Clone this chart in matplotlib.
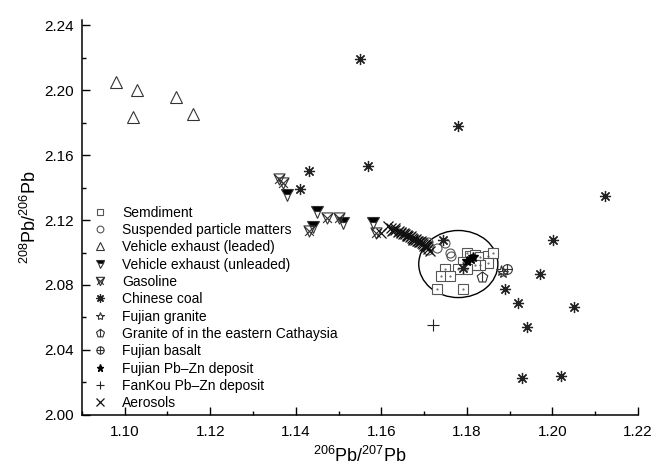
import numpy as np
import matplotlib
matplotlib.use("Agg")
from matplotlib import pyplot as plt
from matplotlib.path import Path
from matplotlib.patches import Ellipse

plt.rcParams['font.family'] = ['Liberation Sans', 'DejaVu Sans']
plt.rcParams['mathtext.fontset'] = 'custom'
plt.rcParams['mathtext.rm'] = 'Liberation Sans'

# ---- data ----
sed_x = [1.1800, 1.1807, 1.1820, 1.1830, 1.1850, 1.1860, 1.1850, 1.1830, 1.1818,
         1.1790, 1.1800, 1.1780, 1.1750, 1.1740, 1.1760, 1.1730, 1.1790]
sed_y = [2.1000, 2.0980, 2.0985, 2.0970, 2.0980, 2.1000, 2.0935, 2.0920, 2.0925,
         2.0940, 2.0900, 2.0900, 2.0900, 2.0856, 2.0856, 2.0775, 2.0775]

spm_x = [1.1710, 1.1730, 1.1750, 1.1760, 1.1762, 1.1709]
spm_y = [2.1066, 2.1030, 2.1060, 2.1000, 2.0980, 2.1015]

leaded_x = [1.0979, 1.1028, 1.1019, 1.1119, 1.1159]
leaded_y = [2.2050, 2.2000, 2.1834, 2.1960, 2.1850]

unleaded_x = [1.1379, 1.1450, 1.1440, 1.1510, 1.1580]
unleaded_y = [2.1354, 2.1250, 2.1160, 2.1180, 2.1180]

gas_x = [1.1360, 1.1370, 1.1430, 1.1472, 1.1500, 1.1587]
gas_y = [2.1450, 2.1430, 2.1130, 2.1210, 2.1210, 2.1120]

coal_x = [1.1550, 1.1570, 1.1430, 1.1410, 1.1780, 1.2123, 1.2001, 1.1970, 1.2050,
          1.1890, 1.1920, 1.1940, 1.1930, 1.2020, 1.1744, 1.1790]
coal_y = [2.2190, 2.1530, 2.1500, 2.1390, 2.1780, 2.1350, 2.1080, 2.0870, 2.0665,
          2.0775, 2.0690, 2.0540, 2.0230, 2.0240, 2.1080, 2.0905]

fgranite_x = [1.1885, 1.1880]
fgranite_y = [2.0875, 2.0885]

cathaysia_x = [1.1835]
cathaysia_y = [2.0850]

basalt_x = [1.1894]
basalt_y = [2.0900]

fjpbzn_x = [1.1810, 1.1800, 1.1815]
fjpbzn_y = [2.0960, 2.0950, 2.0970]

fankou_x = [1.1720]
fankou_y = [2.0554]

aero_x = [1.1599, 1.1615, 1.1622, 1.1628, 1.1633, 1.1638, 1.1642, 1.1647, 1.1651,
          1.1655, 1.1659, 1.1663, 1.1667, 1.1671, 1.1675, 1.1679, 1.1683, 1.1686,
          1.1690, 1.1694, 1.1697, 1.1701, 1.1704, 1.1707, 1.1710, 1.1713, 1.1632,
          1.1645, 1.1661, 1.1673, 1.1688, 1.1699, 1.1626, 1.1652, 1.1669, 1.1681,
          1.1692, 1.1706]
aero_y = [2.1120, 2.1163, 2.1148, 2.1140, 2.1136, 2.1125, 2.1130, 2.1118, 2.1112,
          2.1115, 2.1104, 2.1100, 2.1096, 2.1090, 2.1086, 2.1078, 2.1073, 2.1070,
          2.1062, 2.1058, 2.1050, 2.1046, 2.1038, 2.1032, 2.1020, 2.1010, 2.1148,
          2.1128, 2.1108, 2.1080, 2.1066, 2.1042, 2.1132, 2.1122, 2.1102, 2.1084,
          2.1070, 2.1040]


# ---- custom markers ----
def gasoline_marker():
    verts = [(-1, 1), (1, 1), (0, -1), (-1, 1),
             (-0.8, 0.8), (0.8, -0.8), (-0.8, -0.8), (0.8, 0.8)]
    codes = [Path.MOVETO, Path.LINETO, Path.LINETO, Path.CLOSEPOLY,
             Path.MOVETO, Path.LINETO, Path.MOVETO, Path.LINETO]
    return Path(verts, codes)


def pentagon_bar_marker():
    ang = np.deg2rad(90 + 72 * np.arange(5))
    pts = list(zip(np.cos(ang), np.sin(ang)))
    verts = pts + [pts[0], (0, 1), (0, -0.81)]
    codes = [Path.MOVETO] + [Path.LINETO] * 4 + [Path.CLOSEPOLY, Path.MOVETO, Path.LINETO]
    return Path(verts, codes)


def circle_plus_marker():
    circ = Path.unit_circle()
    cross = Path([(-1, 0), (1, 0), (0, -1), (0, 1)],
                 [Path.MOVETO, Path.LINETO, Path.MOVETO, Path.LINETO])
    return Path.make_compound_path(circ, cross)


fig = plt.figure(figsize=(6.55, 4.72), dpi=100)
ax = fig.add_axes([0.125, 0.121, 0.849, 0.836])

gray = '#555555'
lw = 0.8
ax.plot(sed_x, sed_y, 's', ms=6.5, mfc='white', mec=gray, mew=lw, label='Semdiment')
ax.plot(sed_x, sed_y, '.', ms=1, color=gray)
ax.plot(spm_x, spm_y, 'o', ms=6.5, mfc='none', mec=gray, mew=lw,
        label='Suspended particle matters')
ax.plot(leaded_x, leaded_y, '^', ms=8, mfc='none', mec='#333333', mew=lw,
        label='Vehicle exhaust (leaded)')
ax.plot(unleaded_x, unleaded_y, 'v', ms=8, fillstyle='top', mfc='black',
        mfcalt='white', mec='#333333', mew=lw, label='Vehicle exhaust (unleaded)')
ax.plot(gas_x, gas_y, marker=gasoline_marker(), ls='none', ms=8, mfc='none',
        mec='#333333', mew=lw, label='Gasoline')
ax.plot(coal_x, coal_y, marker=(8, 2, 0), ls='none', ms=8, color='#222222',
        mew=0.9, label='Chinese coal')
ax.plot(fgranite_x, fgranite_y, '*', ms=8, mfc='none', mec='#333333', mew=lw,
        label='Fujian granite')
ax.plot(cathaysia_x, cathaysia_y, marker=pentagon_bar_marker(), ls='none', ms=8,
        mfc='none', mec='#333333', mew=lw, label='Granite of in the eastern Cathaysia')
ax.plot(basalt_x, basalt_y, marker=circle_plus_marker(), ls='none', ms=7,
        mfc='none', mec='#333333', mew=lw, label='Fujian basalt')
ax.plot(fjpbzn_x, fjpbzn_y, '*', ms=7, color='black', label='Fujian Pb–Zn deposit')
ax.plot(fankou_x, fankou_y, '+', ms=8, color='#222222', mew=0.8,
        label='FanKou Pb–Zn deposit')
ax.plot(aero_x, aero_y, 'x', ms=7, color='#111111', mew=0.9, label='Aerosols')

ax.add_patch(Ellipse((1.1780, 2.0929), 0.0185, 0.0413, fill=False,
                     edgecolor='black', lw=1.0))

ax.set_xlim(1.09, 1.22)
ax.set_ylim(2.00, 2.243)
ax.set_xticks(np.arange(1.10, 1.2201, 0.02))
ax.set_xticks(np.arange(1.09, 1.2201, 0.01), minor=True)
ax.set_yticks(np.arange(2.00, 2.2401, 0.04))
ax.set_yticks(np.arange(2.02, 2.2401, 0.04), minor=True)
ax.xaxis.set_major_formatter(matplotlib.ticker.FormatStrFormatter('%.2f'))
ax.yaxis.set_major_formatter(matplotlib.ticker.FormatStrFormatter('%.2f'))
ax.tick_params(which='both', direction='in', labelsize=11, width=1)
ax.tick_params(which='major', length=6)
ax.tick_params(which='minor', length=3)
ax.tick_params(axis='x', pad=7)
ax.tick_params(axis='y', pad=6)
for s in ['top', 'right']:
    ax.spines[s].set_visible(False)
for s in ['left', 'bottom']:
    ax.spines[s].set_linewidth(1.1)

ax.set_xlabel(r'$^{206}$Pb/$^{207}$Pb', fontsize=13, labelpad=5)
ax.set_ylabel(r'$^{208}$Pb/$^{206}$Pb', fontsize=13, labelpad=3)

ax.legend(loc='upper left', bbox_to_anchor=(0.0, 0.555), frameon=False,
          fontsize=10, labelspacing=0.24, handlelength=1.2, handletextpad=1.0,
          markerscale=0.75, borderaxespad=0.3)

fig.savefig('out.png', dpi=100)
